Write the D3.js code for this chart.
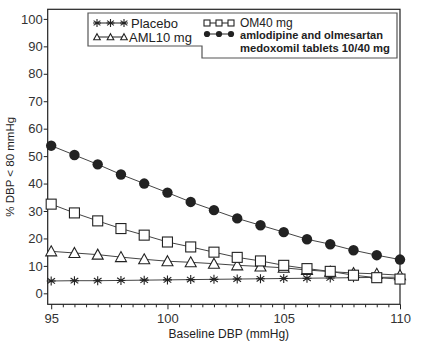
<!DOCTYPE html>
<html><head><meta charset="utf-8">
<script src="https://cdn.jsdelivr.net/npm/d3@7"></script>
<style>body{margin:0;background:#fff}svg{display:block}text{font-family:"Liberation Sans",Arial,sans-serif;fill:#222}</style>
</head><body>
<svg id="c" width="431" height="348"></svg>
<script>
const baseline = [95,96,97,98,99,100,101,102,103,104,105,106,107,108,109,110];
const placebo = [4.5,4.6,4.6,4.7,4.8,4.9,5.0,5.1,5.2,5.3,5.4,5.5,5.6,5.7,5.8,5.9];
const aml10 = [15.3,14.7,14.1,13.2,12.4,11.7,11.3,10.8,10.2,9.8,9.3,8.5,7.9,7.4,7.1,6.6];
const om40 = [32.5,29.3,26.4,23.6,21.2,18.7,16.9,15.0,13.1,11.8,10.2,9.0,8.0,6.6,5.7,5.2];
const combo = [53.8,50.4,47.0,43.3,40.0,36.7,33.3,30.3,27.3,24.8,22.3,19.7,17.9,15.7,13.9,12.3];
const xTicks = [95,100,105,110];
const yTicks = [0,10,20,30,40,50,60,70,80,90,100];
const seriesNames = ["Placebo","AML10 mg","OM40 mg","amlodipine and olmesartan|medoxomil tablets 10/40 mg"];

const svg = d3.select("#c");
const L=47.7,R=400,T=9.3,B=304.3;
const x = d3.scaleLinear().domain([94.85,110]).range([L,R]);
const y = d3.scaleLinear().domain([-4,103.5]).range([B,T]);
const ink="#222";

svg.append("rect").attr("x",L).attr("y",T).attr("width",R-L).attr("height",B-T)
  .attr("fill","none").attr("stroke",ink).attr("stroke-width",1.2);

const ya = svg.append("g").attr("transform",`translate(${L},0)`)
  .call(d3.axisLeft(y).tickValues(yTicks).tickSize(4).tickPadding(1));
ya.select(".domain").remove();
ya.selectAll("line").attr("stroke",ink);
ya.selectAll("text").attr("font-size",13).style("fill","#333");

const minor = d3.range(95,110.01,0.5).filter(v=>!xTicks.includes(v));
const xm = svg.append("g").attr("transform",`translate(0,${B})`)
  .call(d3.axisBottom(x).tickValues(minor).tickSize(3).tickFormat(""));
xm.select(".domain").remove();
xm.selectAll("line").attr("stroke",ink);
const xa = svg.append("g").attr("transform",`translate(0,${B})`)
  .call(d3.axisBottom(x).tickValues(xTicks).tickSize(5).tickPadding(4));
xa.select(".domain").remove();
xa.selectAll("line").attr("stroke",ink);
xa.selectAll("text").attr("font-size",13).style("fill","#333");

svg.append("text").attr("x",(L+R)/2+5).attr("y",338).attr("text-anchor","middle")
  .attr("font-size",12).text("Baseline DBP (mmHg)");
svg.append("text").attr("transform",`translate(14,${(T+B)/2+10}) rotate(-90)`)
  .attr("text-anchor","middle").attr("font-size",11.5).text("% DBP < 80 mmHg");

function marker(g, type, cx, cy, s){
  if(type==="circle") g.append("circle").attr("cx",cx).attr("cy",cy).attr("r",s*0.52).attr("fill",ink);
  else if(type==="square") g.append("rect").attr("x",cx-s/2).attr("y",cy-s/2).attr("width",s).attr("height",s).attr("fill","#fff").attr("stroke",ink).attr("stroke-width",1.1);
  else if(type==="triangle") g.append("path").attr("d",`M${cx},${cy-s*0.55}L${cx+s*0.55},${cy+s*0.45}L${cx-s*0.55},${cy+s*0.45}Z`).attr("fill","#fff").attr("stroke",ink).attr("stroke-width",1.1);
  else if(type==="star"){
    const r=s*0.5;
    g.append("path").attr("d",`M${cx},${cy-r}V${cy+r}M${cx-r*0.85},${cy-r*0.6}L${cx+r*0.85},${cy+r*0.6}M${cx-r*0.85},${cy+r*0.6}L${cx+r*0.85},${cy-r*0.6}M${cx-r},${cy}H${cx+r}`)
      .attr("stroke",ink).attr("stroke-width",1.1).attr("fill","none");
  }
}
const series = [
  {vals:placebo,type:"star",size:9},
  {vals:aml10,type:"triangle",size:10},
  {vals:om40,type:"square",size:10},
  {vals:combo,type:"circle",size:10}
];
const line = d3.line().x((d,i)=>x(baseline[i])).y(d=>y(d));
series.forEach(s=>{
  svg.append("path").attr("d",line(s.vals)).attr("fill","none").attr("stroke","#444").attr("stroke-width",1);
});
series.forEach(s=>{
  const g=svg.append("g");
  s.vals.forEach((v,i)=>marker(g,s.type,x(baseline[i]),y(v),s.size));
});

const lg = svg.append("g");
lg.append("path").attr("d","M88,13H397V58H202V46H88Z").attr("fill","#fff").attr("stroke","#555").attr("stroke-width",1.2);
function legendSample(x0,x1,cy,type,size){
  lg.append("line").attr("x1",x0).attr("x2",x1).attr("y1",cy).attr("y2",cy).attr("stroke",ink).attr("stroke-width",1);
  [x0,(x0+x1)/2,x1].forEach(cx=>marker(lg,type,cx,cy,size));
}
legendSample(97,124,23,"star",8);
legendSample(97,124,37,"triangle",6);
legendSample(207,231,23,"square",6);
legendSample(207,231,34,"circle",6);
lg.append("text").attr("x",131).attr("y",28).attr("font-size",13).text(seriesNames[0]);
lg.append("text").attr("x",129).attr("y",42).attr("font-size",13).text(seriesNames[1]);
lg.append("text").attr("x",240).attr("y",27).attr("font-size",12).text(seriesNames[2]);
const parts = seriesNames[3].split("|");
lg.append("text").attr("x",240).attr("y",38.5).attr("font-size",10).attr("font-weight","bold")
  .attr("textLength",143).attr("lengthAdjust","spacingAndGlyphs").text(parts[0]);
lg.append("text").attr("x",240).attr("y",51.5).attr("font-size",10.5).attr("font-weight","bold")
  .attr("textLength",150).attr("lengthAdjust","spacingAndGlyphs").text(parts[1]);
</script>
</body></html>
